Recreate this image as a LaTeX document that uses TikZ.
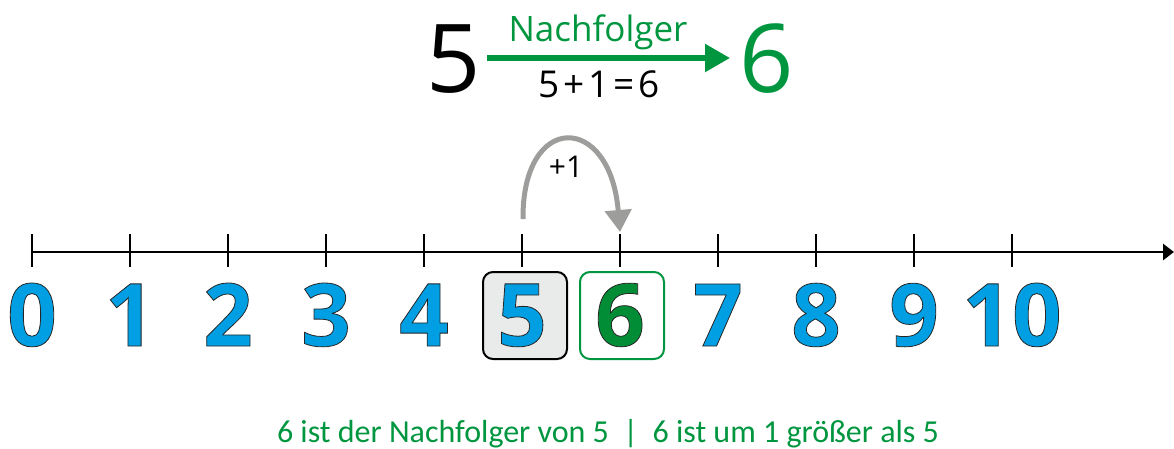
\documentclass[tikz,border=0pt]{standalone}
\usepackage{fontspec}
\setmainfont{Open Sans}
\newfontfamily\carl{Carlito}
\usetikzlibrary{arrows.meta}
\definecolor{nlblue}{RGB}{0,159,227}
\definecolor{ngreen}{RGB}{0,150,64}
\definecolor{dgreen}{RGB}{0,141,54}
\definecolor{arcgray}{RGB}{157,157,156}
\definecolor{boxgray}{RGB}{233,234,234}
\newcommand\outlined[1]{\special{pdf:literal direct 2 Tr 0.8 w 0.15 0.15 0.15 RG}#1\special{pdf:literal direct 0 Tr 0 0 0 RG}}
\tikzset{
  tickline/.style={line width=2.8pt},
  axisline/.style={line width=2.8pt,-{Triangle[length=11pt,width=16pt]}},
  digit/.style={font=\fontsize{87}{87}\selectfont\bfseries, text=nlblue, anchor=base, inner sep=0pt},
  numbox/.style={rounded corners=10pt, minimum width=84pt, minimum height=87pt, inner sep=0pt, line width=2pt},
  jumparc/.style={draw=arcgray, line width=5pt, -{Triangle[length=22pt,width=26pt]}},
  garrow/.style={draw=ngreen, line width=5.5pt, -{Triangle[length=25pt,width=27pt]}},
  bigdigit/.style={font=\fontsize{95}{95}\selectfont, anchor=base, inner sep=0pt},
}
\begin{document}
\begin{tikzpicture}[x=1pt,y=-1pt]
\useasboundingbox (0,0) rectangle (1174,448);
% top formula
\node[bigdigit] (top5) at (454,92) {5};
\node[bigdigit, text=ngreen] (top6) at (767,92) {6};
\coordinate (ga) at (487,58);
\coordinate (gb) at (730,58);
\draw[garrow] (ga) -- (gb);
\node[anchor=base, inner sep=0pt, font=\fontsize{35}{35}\selectfont, text=ngreen] (lab) at (598,41) {Nachfolger};
\node[anchor=base, inner sep=0pt, font=\fontsize{37}{37}\selectfont] (eq) at (599,97) {5\kern4pt+\kern4pt1\kern4pt=\kern4pt6};
% boxes
\node[numbox, draw=black, fill=boxgray] (b5) at (525,315.5) {};
\node[numbox, draw=ngreen, fill=white] (b6) at (622,315.5) {};
% axis
\coordinate (ax0) at (32,252);
\coordinate (ax1) at (1174,252);
\draw[axisline] (ax0) -- (ax1);
\foreach \i in {0,...,10}{
  \coordinate (tt\i) at ({32+98*\i},234);
  \coordinate (tb\i) at ({32+98*\i},267);
  \draw[tickline] (tt\i) -- (tb\i);
}
% digits
\foreach \i in {0,1,2,3,4,5,7,8,9,10}{
  \node[digit] (d\i) at ({32+98*\i},346) {\outlined{\i}};
}
\node[digit, text=dgreen] (d6) at (620,346) {\outlined{6}};
% jump arc
\coordinate (as) at (523,219);
\coordinate (ae) at (620,232);
\draw[jumparc] (as) .. controls (522,112) and (610,112) .. (ae);
\node[anchor=base, inner sep=0pt, font=\fontsize{30}{30}\selectfont] (plus) at (566,177) {+1};
% bottom sentence
\node[anchor=base, inner sep=0pt, font=\carl\fontsize{32}{32}\selectfont, text=ngreen] (bot) at (608,442) {6 ist der Nachfolger von 5 \ | \ 6 ist um 1 größer als 5};
\end{tikzpicture}
\end{document}
